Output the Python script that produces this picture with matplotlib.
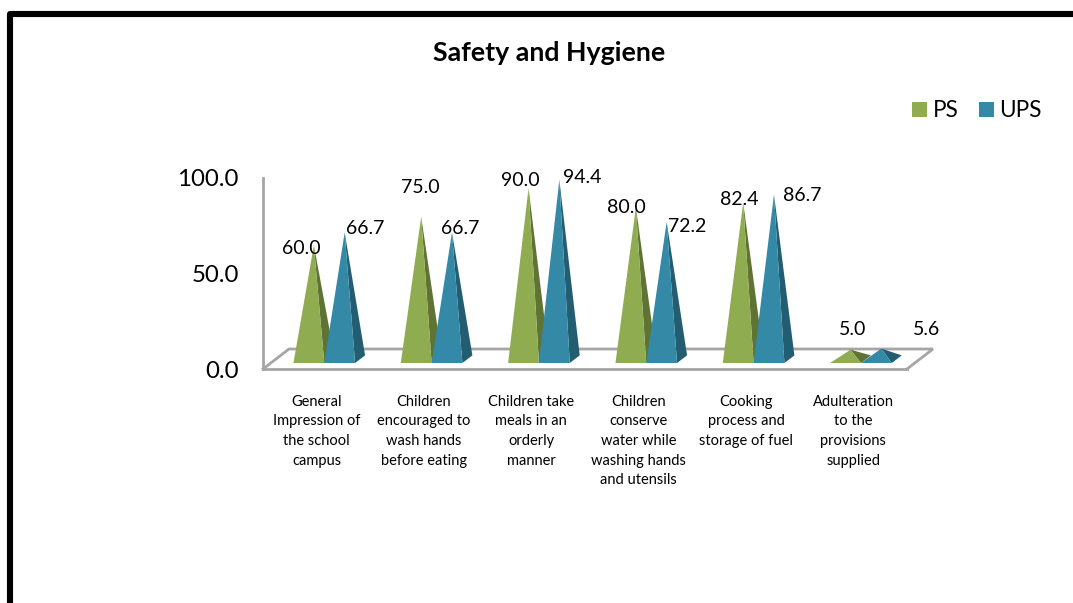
import matplotlib
matplotlib.use("Agg")
import matplotlib.pyplot as plt
from matplotlib.lines import Line2D
from matplotlib.patches import Patch, Polygon

plt.rcParams['font.family'] = ['Lato', 'DejaVu Sans']

title = "Safety and Hygiene"
categories = [
    "General\nImpression of\nthe school\ncampus",
    "Children\nencouraged to\nwash hands\nbefore eating",
    "Children take\nmeals in an\norderly\nmanner",
    "Children\nconserve\nwater while\nwashing hands\nand utensils",
    "Cooking\nprocess and\nstorage of fuel",
    "Adulteration\nto the\nprovisions\nsupplied",
]
ps_values = [60.0, 75.0, 90.0, 80.0, 82.4, 5.0]
ups_values = [66.7, 66.7, 94.4, 72.2, 86.7, 5.6]
y_ticks = [0, 50, 100]

W, H = 1073, 603
fig = plt.figure(figsize=(W / 100, H / 100), dpi=100, facecolor='white')

# axes box in pixels: x 263..907, y 369 (value 0)..178 (value 100)
L, R, B, T = 263, 907, 369, 178
ax = fig.add_axes([L / W, 1 - B / H, (R - L) / W, (B - T) / H])
ax.set_xlim(0, 6)
ax.set_ylim(0, 100)
ax.patch.set_alpha(0)

px_x = 6 / (R - L)     # data units per pixel, x
px_y = 100 / (B - T)   # data units per pixel, y

GREY = '#A6A6A6'
for s in ('top', 'right'):
    ax.spines[s].set_visible(False)
for s in ('left', 'bottom'):
    ax.spines[s].set_color(GREY)
    ax.spines[s].set_linewidth(2)

# floor of the pseudo-3D chart
depth_x, depth_y = 26 * px_x, 20 * px_y
ax.add_line(Line2D([0, depth_x, 6 + depth_x, 6], [0, depth_y, depth_y, 0],
                   color=GREY, lw=2, clip_on=False, zorder=1,
                   solid_joinstyle='miter'))

GREEN, GREEN_D = '#8FAC50', '#5F7335'
BLUE, BLUE_D = '#3389A6', '#235D71'
bar_w = 30.8 * px_x
side_x, side_y = 10 * px_x, 7.6 * px_y
off_x, off_y = 7.6 * px_x, 6 * px_y


def pyramid(left, value, front, side, z):
    right = left + bar_w
    ax_x = left + bar_w / 2 + side_x / 2
    ax_y = off_y + side_y / 2 + value * 0.995
    ax.add_patch(Polygon([(right, off_y), (right + side_x, off_y + side_y), (ax_x, ax_y)],
                         closed=True, fc=side, ec='none', clip_on=False, zorder=z))
    ax.add_patch(Polygon([(left, off_y), (right, off_y), (ax_x, ax_y)],
                         closed=True, fc=front, ec='none', clip_on=False, zorder=z + 0.1))


for i, (p, u) in enumerate(zip(ps_values, ups_values)):
    c = i + 0.5 + off_x
    pyramid(c - bar_w, p, GREEN, GREEN_D, 2 + i)
    pyramid(c, u, BLUE, BLUE_D, 2.5 + i)

# value-label offsets in pixels from (group centre, bar height)
ps_label_dx = [-23, -11, -19, -20, -14, -8]
ps_label_dy = [0, 32.5, 11, 3, 7.4, 23.5]
ups_label_dx = [41, 29, 43, 41, 49, 66]
ups_label_dy = [7.3, 7.3, 5.6, -1.2, 2.3, 22.4]


def label(cat, dx, value, dy):
    base = off_y + value * 0.995
    ax.annotate(f"{value:.1f}", xy=(cat + 0.5 + off_x, base), xytext=(dx, dy),
                textcoords='offset pixels', ha='center', va='center',
                fontsize=14, color='black', zorder=20, annotation_clip=False)


for i in range(len(categories)):
    label(i, ps_label_dx[i], ps_values[i], ps_label_dy[i])
    label(i, ups_label_dx[i], ups_values[i], ups_label_dy[i])

ax.set_xticks([i + 0.5 for i in range(len(categories))])
ax.set_xticklabels(categories, fontsize=10.5, linespacing=1.51, va='top')
ax.set_yticks(y_ticks)
ax.set_yticklabels([f"{v:.1f}" for v in y_ticks], fontsize=17.3)
ax.tick_params(axis='x', length=0, pad=18.5)
ax.tick_params(axis='y', length=0, pad=17.5)

fig.text(549 / W, 1 - 53 / H, title, ha='center', va='center',
         fontsize=19.3, fontweight='bold', color='black')

fig.legend(handles=[Patch(fc=GREEN, label='PS'), Patch(fc=BLUE, label='UPS')],
           ncols=2, frameon=False, fontsize=16.3, loc='center right',
           bbox_to_anchor=(1042 / W, 1 - 111 / H), handlelength=0.66, handleheight=0.66,
           handletextpad=0.25, columnspacing=0.9, borderpad=0, borderaxespad=0)

# heavy outer frame, open towards the right and bottom edges
fig.add_artist(Line2D([10 / W, 10 / W, 1.01], [-0.01, 1 - 13.5 / H, 1 - 13.5 / H],
                      transform=fig.transFigure, color='black', lw=4.4,
                      solid_joinstyle='round'))

fig.savefig('out.png', dpi=100, facecolor='white')
